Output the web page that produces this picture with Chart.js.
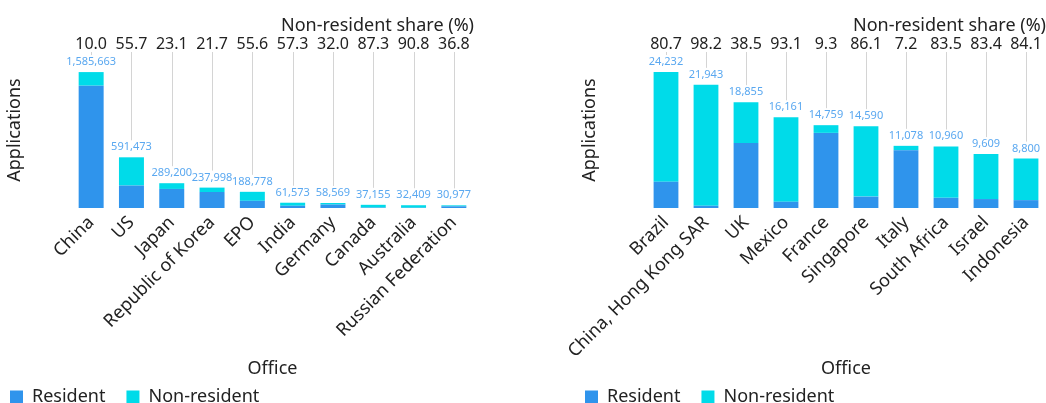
<!DOCTYPE html>
<html>
<head>
<meta charset="utf-8">
<script src="https://cdn.jsdelivr.net/npm/chart.js@4"></script>
<style>
html, body { margin: 0; padding: 0; background: #fff; }
#wrap { position: relative; width: 1046px; height: 403px; }
.box { position: absolute; top: 0; height: 403px; }
#left { left: 0; width: 474px; }
#right { left: 520px; width: 526px; }
</style>
</head>
<body>
<div id="wrap">
	<div class="box" id="left"><canvas id="chartTop"></canvas></div>
	<div class="box" id="right"><canvas id="chartNext"></canvas></div>
</div>
<script>
// top 10 offices
var officesTop = ['China', 'US', 'Japan', 'Republic of Korea', 'EPO', 'India', 'Germany', 'Canada', 'Australia', 'Russian Federation'];
var totalTop = [1585663, 591473, 289200, 237998, 188778, 61573, 58569, 37155, 32409, 30977];
var shareTop = ['10.0', '55.7', '23.1', '21.7', '55.6', '57.3', '32.0', '87.3', '90.8', '36.8'];
var residentTop = [1427097, 262023, 222395, 186352, 83817, 26292, 39827, 4719, 2982, 19577];
var nonResidentTop = [158566, 329450, 66805, 51646, 104961, 35281, 18742, 32436, 29427, 11400];

// next 10 offices
var officesNext = ['Brazil', 'China, Hong Kong SAR', 'UK', 'Mexico', 'France', 'Singapore', 'Italy', 'South Africa', 'Israel', 'Indonesia'];
var totalNext = [24232, 21943, 18855, 16161, 14759, 14590, 11078, 10960, 9609, 8800];
var shareNext = ['80.7', '98.2', '38.5', '93.1', '9.3', '86.1', '7.2', '83.5', '83.4', '84.1'];
var residentNext = [4677, 395, 11596, 1115, 13386, 2028, 10280, 1808, 1595, 1399];
var nonResidentNext = [19555, 21548, 7259, 15046, 1373, 12562, 798, 9152, 8014, 7401];

Chart.defaults.font.family = '"Noto Sans", sans-serif';
Chart.defaults.color = '#222';

function totalsPlugin(totals) {
	return {
		id: 'totals',
		afterLayout: function (chart) {
			// legend sits relative to the plot area
			var lg = chart.legend;
			var dx = chart.chartArea.left - 82 - lg.left;
			lg.left += dx;
			lg.right += dx;
			lg.top -= 9;
		},
		afterDatasetsDraw: function (chart) {
			var ctx = chart.ctx;
			var area = chart.chartArea;
			var low = chart.getDatasetMeta(0).data;
			var high = chart.getDatasetMeta(1).data;
			ctx.save();
			ctx.font = '11px "Noto Sans"';
			ctx.textAlign = 'center';
			ctx.textBaseline = 'alphabetic';
			high.forEach(function (bar, i) {
				var top = Math.min(bar.y, low[i].y);
				var y = top - 7;
				ctx.fillStyle = '#5aa8f0';
				ctx.fillText(totals[i].toLocaleString('en-US'), bar.x, y);
				var end = y - 10;
				if (end > area.top) {
					var x = Math.round(bar.x) + 0.5;
					ctx.strokeStyle = '#d4d4d4';
					ctx.lineWidth = 1;
					ctx.beginPath();
					ctx.moveTo(x, area.top);
					ctx.lineTo(x, end);
					ctx.stroke();
				}
			});
			ctx.restore();
		}
	};
}

function makeChart(id, offices, resident, nonResident, totals, shares, yMax, padLeft) {
	return new Chart(document.getElementById(id), {
		type: 'bar',
		data: {
			labels: offices,
			datasets: [
				{
					label: 'Resident',
					data: resident,
					backgroundColor: '#2f94ec',
					barPercentage: 0.62,
					categoryPercentage: 1
				},
				{
					label: 'Non-resident',
					data: nonResident,
					backgroundColor: '#00dbe9',
					barPercentage: 0.62,
					categoryPercentage: 1
				}
			]
		},
		options: {
			responsive: true,
			maintainAspectRatio: false,
			animation: false,
			layout: { padding: { left: padLeft, right: 0, top: 0, bottom: 0 } },
			plugins: {
				legend: {
					position: 'bottom',
					align: 'start',
					maxHeight: 27,
					labels: { boxWidth: 13, boxHeight: 13, padding: 21, color: '#222', font: { size: 18 } }
				},
				tooltip: { enabled: false }
			},
			scales: {
				x: {
					stacked: true,
					grid: { display: false, drawTicks: false },
					border: { display: false },
					ticks: { color: '#222', font: { size: 18 }, minRotation: 45, maxRotation: 45, autoSkip: false, padding: 4 },
					title: { display: true, text: 'Office', color: '#222', font: { size: 18, lineHeight: 1 }, padding: { top: 0, bottom: -2 } },
					afterFit: function (s) { s.height = 168; }
				},
				x2: {
					type: 'category',
					position: 'top',
					labels: shares,
					offset: true,
					grid: { display: false, drawTicks: false },
					border: { display: false },
					ticks: { color: '#222', font: { size: 16, lineHeight: 1 }, padding: 0, maxRotation: 0, autoSkip: false },
					title: { display: true, text: 'Non-resident share (%)', align: 'end', color: '#222', font: { size: 18, lineHeight: 1 }, padding: { top: 17, bottom: 0 } },
					afterFit: function (s) { s.height = 52; }
				},
				y: {
					stacked: true,
					min: 0,
					max: yMax,
					ticks: { display: false },
					grid: { display: false, drawTicks: false },
					border: { display: false },
					title: { display: true, text: 'Applications', color: '#222', font: { size: 18 } },
					afterFit: function (s) { s.width = 71; }
				}
			}
		},
		plugins: [totalsPlugin(totals)]
	});
}

makeChart('chartTop', officesTop, residentTop, nonResidentTop, totalTop, shareTop, 1820000, 0);
makeChart('chartNext', officesNext, residentNext, nonResidentNext, totalNext, shareNext, 27800, 55);
</script>
</body>
</html>
